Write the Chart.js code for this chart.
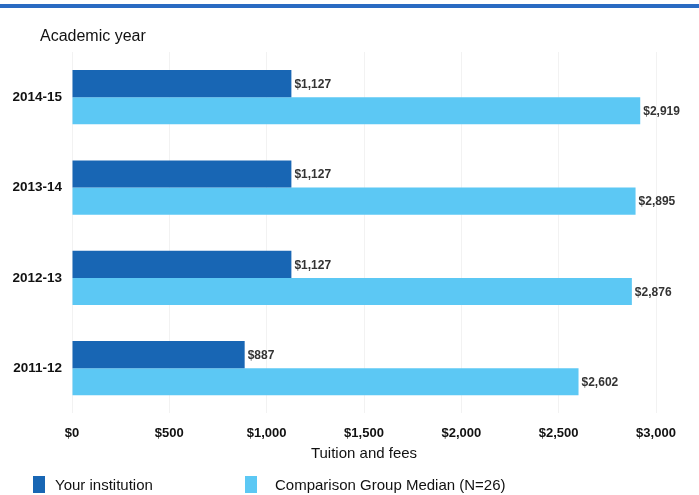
<!DOCTYPE html>
<html>
<head>
<meta charset="utf-8">
<script src="https://cdn.jsdelivr.net/npm/chart.js@4"></script>
<style>
  body { margin: 0; background: #fff; font-family: "Liberation Sans", Arial, sans-serif; }
  #wrap { position: relative; width: 699px; height: 495px; overflow: hidden; }
  #topbar { position: absolute; left: 0; top: 4px; width: 699px; height: 4px; background: #2a6bc2; }
  #ytitle { position: absolute; left: 40px; top: 27px; font-size: 16px; color: #111; }
  .leg { position: absolute; top: 476px; font-size: 15px; color: #111; line-height: 17px; }
  .leg span { display: inline-block; width: 12px; height: 17px; vertical-align: top; margin-right: 10px; }
</style>
</head>
<body>
<div id="wrap">
  <div id="topbar"></div>
  <div id="ytitle">Academic year</div>
  <canvas id="myChart" width="699" height="495"></canvas>
  <div class="leg" style="left:33px"><span style="background:#1866b4"></span>Your institution</div>
  <div class="leg" style="left:245px"><span style="background:#5cc8f4;margin-right:18px"></span>Comparison Group Median (N=26)</div>
</div>
<script>
// Tuition and fees by academic year

const years = ['2014-15', '2013-14', '2012-13', '2011-12'];
const yourInstitution = [1127, 1127, 1127, 887];
const groupMedian = [2919, 2895, 2876, 2602];
const xTicks = [0, 500, 1000, 1500, 2000, 2500, 3000];

const font = '"Liberation Sans", Arial, sans-serif';

function money(v) {
  return '$' + v.toLocaleString('en-US');
}

// labels at the end of each bar
const barLabels = {
  id: 'barLabels',
  afterDatasetsDraw(chart) {
    const c = chart.ctx;
    c.save();
    c.font = 'bold 12px ' + font;
    c.fillStyle = '#333';
    c.textBaseline = 'middle';
    chart.data.datasets.forEach((ds, i) => {
      chart.getDatasetMeta(i).data.forEach((bar, j) => {
        c.fillText(money(ds.data[j]), bar.x + 3, bar.y + 1);
      });
    });
    c.restore();
  }
};

const ctx = document.getElementById('myChart');

new Chart(ctx, {
  type: 'bar',
  data: {
    labels: years,
    datasets: [
      { label: 'Your institution', data: yourInstitution, backgroundColor: '#1866b4' },
      { label: 'Comparison Group Median (N=26)', data: groupMedian, backgroundColor: '#5cc8f4' }
    ]
  },
  options: {
    indexAxis: 'y',
    responsive: false,
    animation: false,
    categoryPercentage: 0.6,
    barPercentage: 1.0,
    layout: { padding: { top: 52, right: 43, bottom: 28, left: 0 } },
    scales: {
      x: {
        min: 0,
        max: 3000,
        afterBuildTicks: (s) => { s.ticks = xTicks.map(v => ({ value: v })); },
        grid: { color: 'rgba(0,0,0,0.05)', drawTicks: false },
        border: { display: false },
        ticks: {
          padding: 12,
          color: '#111',
          font: { family: font, size: 13, weight: 'bold' },
          callback: (v) => money(v)
        },
        title: {
          display: true,
          text: 'Tuition and fees',
          color: '#111',
          padding: { top: -8, bottom: 4 },
          font: { family: font, size: 15 }
        }
      },
      y: {
        afterFit: (s) => { s.width = 72; },
        grid: { display: false, drawTicks: false },
        border: { display: false },
        ticks: {
          padding: 10,
          color: '#111',
          font: { family: font, size: 13.5, weight: 'bold' }
        }
      }
    },
    plugins: {
      legend: { display: false },
      tooltip: { enabled: false }
    }
  },
  plugins: [barLabels]
});
</script>
</body>
</html>
